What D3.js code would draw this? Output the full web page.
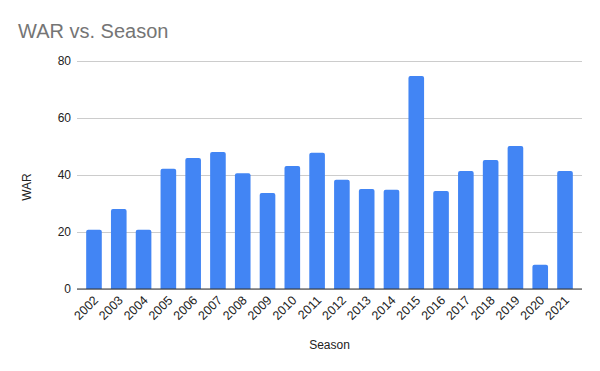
<!DOCTYPE html>
<html>
<head>
<meta charset="utf-8">
<script src="https://cdn.jsdelivr.net/npm/d3@7"></script>
<style>
  body { margin: 0; background: #fff; }
  svg { display: block; font-family: "Liberation Sans", Arial, sans-serif; }
</style>
</head>
<body>
<script>
const width = 600;
const height = 371;
const margin = { top: 61, right: 18, bottom: 82, left: 77 };

const seasons = ["2002", "2003", "2004", "2005", "2006", "2007", "2008", "2009", "2010", "2011",
  "2012", "2013", "2014", "2015", "2016", "2017", "2018", "2019", "2020", "2021"];
const war = [20.8, 28.1, 20.8, 42.2, 46.0, 48.1, 40.6, 33.7, 43.2, 47.8,
  38.3, 35.1, 34.8, 74.7, 34.4, 41.4, 45.3, 50.2, 8.5, 41.4];
const yTicks = [0, 20, 40, 60, 80];

const data = seasons.map((s, i) => ({ season: s, war: war[i] }));

const svg = d3.select("body").append("svg")
  .attr("width", width)
  .attr("height", height);

const x = d3.scaleBand()
  .domain(seasons)
  .range([margin.left, width - margin.right])
  .paddingInner(0.37)
  .paddingOuter(0.37);

const y = d3.scaleLinear()
  .domain([0, 80])
  .range([height - margin.bottom, margin.top]);

// title
svg.append("text")
  .attr("x", 18)
  .attr("y", 38)
  .attr("fill", "#757575")
  .attr("font-size", "20px")
  .text("WAR vs. Season");

// gridlines + y labels
const yAxis = d3.axisLeft(y).tickValues(yTicks).tickSize(-(width - margin.left - margin.right)).tickPadding(6);
const gy = svg.append("g")
  .attr("transform", `translate(${margin.left},0)`)
  .call(yAxis);
gy.select(".domain").remove();
gy.selectAll(".tick line").attr("stroke", "#cccccc");
gy.selectAll(".tick text")
  .attr("fill", "#222")
  .attr("font-size", "12px")
  .attr("font-family", "'Liberation Sans', Arial, sans-serif");

// bars
svg.append("g")
  .selectAll("path")
  .data(data)
  .join("path")
  .attr("fill", "#4285f4")
  .attr("d", d => {
    const x0 = x(d.season), w = x.bandwidth();
    const y0 = y(d.war), y1 = y(0), r = 2;
    return `M${x0},${y1}V${y0 + r}Q${x0},${y0} ${x0 + r},${y0}H${x0 + w - r}Q${x0 + w},${y0} ${x0 + w},${y0 + r}V${y1}Z`;
  });

// baseline
svg.append("line")
  .attr("x1", margin.left)
  .attr("x2", width - margin.right)
  .attr("y1", y(0))
  .attr("y2", y(0))
  .attr("stroke", "#333")
  .attr("stroke-width", 1);

// x labels
svg.append("g")
  .selectAll("text")
  .data(seasons)
  .join("text")
  .attr("transform", d => `translate(${x(d) + x.bandwidth() / 2 + 5},${y(0) + 12}) rotate(-45)`)
  .attr("text-anchor", "end")
  .attr("fill", "#222")
  .attr("font-size", "12.5px")
  .text(d => d);

// axis titles
svg.append("text")
  .attr("x", (margin.left + width - margin.right) / 2)
  .attr("y", 349)
  .attr("text-anchor", "middle")
  .attr("fill", "#222")
  .attr("font-size", "12px")
  .text("Season");

svg.append("text")
  .attr("transform", `translate(31,${(margin.top + height - margin.bottom) / 2 + 12}) rotate(-90)`)
  .attr("text-anchor", "middle")
  .attr("fill", "#222")
  .attr("font-size", "12px")
  .text("WAR");
</script>
</body>
</html>
